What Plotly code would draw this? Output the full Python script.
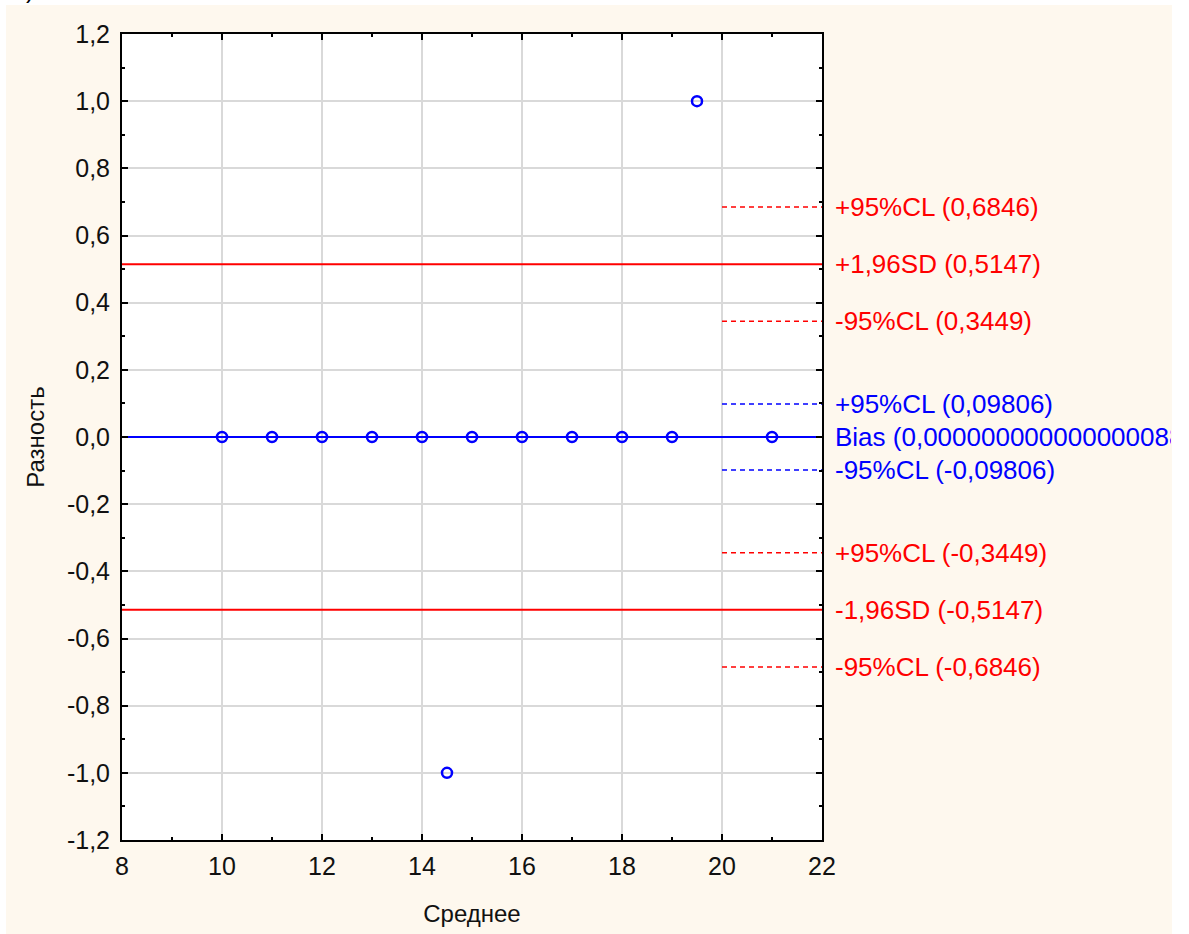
import plotly.graph_objects as go

# Bland-Altman: mean of two measurements vs. their difference
mean_vals = [10, 11, 12, 13, 14, 15, 16, 17, 18, 19, 21, 19.5, 14.5]
diff_vals = [0, 0, 0, 0, 0, 0, 0, 0, 0, 0, 0, 1.0, -1.0]

bias = 0.0
bias_text = "0,0000000000000000888178"
sd_upper = 0.5147
sd_lower = -0.5147
cl_red = [0.6846, 0.3449, -0.3449, -0.6846]
cl_blue = [0.09806, -0.09806]

# right-hand labels: (value, text, colour)
line_labels = [
    (0.6846, "+95%CL (0,6846)", "#FF0000"),
    (0.5147, "+1,96SD (0,5147)", "#FF0000"),
    (0.3449, "-95%CL (0,3449)", "#FF0000"),
    (0.09806, "+95%CL (0,09806)", "#0000FF"),
    (-0.09806, "-95%CL (-0,09806)", "#0000FF"),
    (-0.3449, "+95%CL (-0,3449)", "#FF0000"),
    (-0.5147, "-1,96SD (-0,5147)", "#FF0000"),
    (-0.6846, "-95%CL (-0,6846)", "#FF0000"),
]

x_tick_vals = [8, 10, 12, 14, 16, 18, 20, 22]
x_tick_text = ["8", "10", "12", "14", "16", "18", "20", "22"]
y_tick_vals = [1.2, 1.0, 0.8, 0.6, 0.4, 0.2, 0.0, -0.2, -0.4, -0.6, -0.8, -1.0, -1.2]
y_tick_text = ["1,2", "1,0", "0,8", "0,6", "0,4", "0,2", "0,0",
               "-0,2", "-0,4", "-0,6", "-0,8", "-1,0", "-1,2"]

X_MIN, X_MAX = 8, 22
Y_MIN, Y_MAX = -1.2, 1.2
CL_START = 20

RED = "#FF0000"
BLUE = "#0000FF"
CREAM = "#FEF8EE"
FONT = "Liberation Sans, Arial, sans-serif"
FS = 25
FS_LBL = 26

fig = go.Figure()

# limits of agreement (solid, full width)
for v in [sd_upper, sd_lower]:
    fig.add_trace(go.Scatter(x=[X_MIN, X_MAX], y=[v, v], mode="lines",
                             line=dict(color=RED, width=2), showlegend=False,
                             hoverinfo="skip"))
# confidence limits (short dashed segments)
for v in cl_red:
    fig.add_trace(go.Scatter(x=[CL_START, X_MAX], y=[v, v], mode="lines",
                             line=dict(color=RED, width=1.5, dash="5px,4px"),
                             showlegend=False, hoverinfo="skip"))
for v in cl_blue:
    fig.add_trace(go.Scatter(x=[CL_START, X_MAX], y=[v, v], mode="lines",
                             line=dict(color=BLUE, width=1.5, dash="5px,4px"),
                             showlegend=False, hoverinfo="skip"))
# bias line
fig.add_trace(go.Scatter(x=[X_MIN, X_MAX], y=[bias, bias], mode="lines",
                         line=dict(color=BLUE, width=2), showlegend=False,
                         hoverinfo="skip"))
# observations
fig.add_trace(go.Scatter(x=mean_vals, y=diff_vals, mode="markers",
                         marker=dict(symbol="circle-open", size=10, color=BLUE,
                                     line=dict(color=BLUE, width=2.5)),
                         showlegend=False))

annotations = []
for v, txt, col in line_labels:
    annotations.append(dict(x=X_MAX, y=v, xref="x", yref="y", text=txt,
                            showarrow=False, xanchor="left", yanchor="middle",
                            xshift=11, font=dict(family=FONT, size=FS_LBL, color=col)))
annotations.append(dict(x=X_MAX, y=bias, xref="x", yref="y",
                        text=f"Bias ({bias_text})", showarrow=False,
                        xanchor="left", yanchor="middle", xshift=11,
                        width=336, align="left",
                        font=dict(family=FONT, size=FS_LBL, color=BLUE)))
# remnant of the panel letter above the frame
annotations.append(dict(x=-0.131, y=1.036, xref="paper", yref="paper", text=")",
                        showarrow=False, xanchor="center", yanchor="bottom",
                        font=dict(family=FONT, size=FS, color="#000000")))

PW, PH = 700, 806
ML, MT = 122, 34
def px_x(p):
    return (p - ML) / PW
def px_y(p):
    return (MT + PH - p) / PH

# white margins around the cream panel
shapes = [
    dict(type="rect", xref="paper", yref="paper", x0=px_x(-5), x1=px_x(6),
         y0=px_y(940), y1=px_y(-5), fillcolor="white", line_width=0, layer="above"),
    dict(type="rect", xref="paper", yref="paper", x0=px_x(1172), x1=px_x(1200),
         y0=px_y(940), y1=px_y(-5), fillcolor="white", line_width=0, layer="above"),
    dict(type="rect", xref="paper", yref="paper", x0=px_x(-5), x1=px_x(1200),
         y0=px_y(5), y1=px_y(-5), fillcolor="white", line_width=0, layer="below"),
]

axis_common = dict(showline=True, linecolor="black", linewidth=2, mirror="ticks",
                   ticks="inside", ticklen=6, tickwidth=2, tickcolor="black",
                   showgrid=True, gridcolor="#D9D9D9", gridwidth=1.5,
                   zeroline=False,
                   tickfont=dict(family=FONT, size=FS, color="#111111"))

fig.update_layout(
    width=1189, height=934,
    margin=dict(l=ML, r=1189 - ML - PW, t=MT, b=934 - MT - PH),
    paper_bgcolor=CREAM, plot_bgcolor="white",
    annotations=annotations, shapes=shapes,
    xaxis=dict(range=[X_MIN, X_MAX], tickvals=x_tick_vals, ticktext=x_tick_text,
               ticklabelstandoff=3,
               minor=dict(dtick=1, tick0=8, ticks="inside", ticklen=3,
                          tickcolor="black", showgrid=False),
               title=dict(text="Среднее", font=dict(family=FONT, size=FS - 1,
                                                    color="#111111"), standoff=26),
               **axis_common),
    yaxis=dict(range=[Y_MIN, Y_MAX], tickvals=y_tick_vals, ticktext=y_tick_text,
               ticklabelstandoff=5,
               minor=dict(dtick=0.1, tick0=0, ticks="inside", ticklen=3,
                          tickcolor="black", showgrid=False),
               title=dict(text="Разность", font=dict(family=FONT, size=FS - 1,
                                                     color="#111111"), standoff=16),
               **axis_common),
)

fig.write_html("out.html")
